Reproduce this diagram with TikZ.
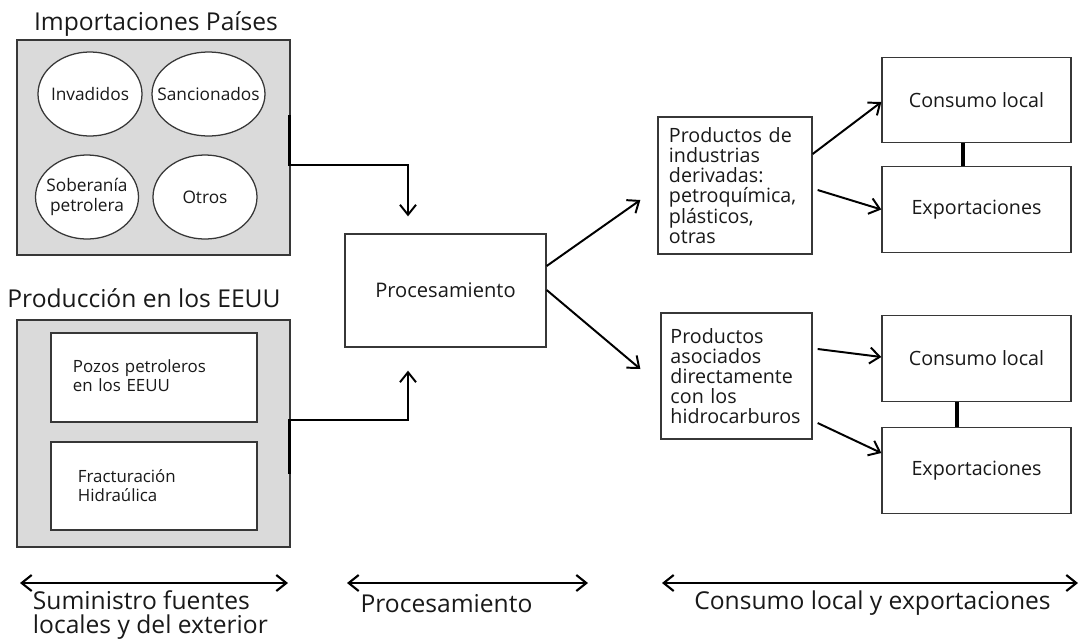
\documentclass[tikz,border=0pt]{standalone}
\usepackage{fontspec}
\setmainfont{Open Sans}
\usepackage{tikz}
\usetikzlibrary{shapes, arrows, positioning, arrows.meta, calc}

\definecolor{grisfondo}{RGB}{218,218,218}
\definecolor{grisborde}{RGB}{55,55,55}
\definecolor{textogris}{RGB}{25,25,25}

\tikzset{
    fondo/.style={draw=grisborde, line width=0.9pt, fill=grisfondo, inner sep=0pt},
    caja/.style={draw=grisborde, line width=0.9pt, fill=white, inner sep=0pt, text=textogris},
    elipse/.style={ellipse, draw=grisborde, line width=0.9pt, fill=white, inner sep=0pt, minimum height=2.1cm},
    etiqueta/.style={align=center, text=textogris, font=\fontsize{12.3}{14.5}\selectfont},
    titulo/.style={text=textogris, font=\fontsize{17.5}{17.5}\selectfont},
    flecha/.style={line width=1.4pt, -{Straight Barb[length=2.5mm, width=4mm, line width=1.4pt]}},
    doble/.style={line width=1.5pt, {Straight Barb[length=2.5mm, width=4mm, line width=1.5pt]}-{Straight Barb[length=2.5mm, width=4mm, line width=1.5pt]}},
    barra/.style={line width=2.3pt}
}

\begin{document}
\begin{tikzpicture}[x=0.025cm, y=-0.025cm]
        \useasboundingbox (0,0) rectangle (1080,640);
        % Importaciones de otros paises
        \node[titulo] (titimp) at (156,24) {Importaciones Países};
        \node[fondo, minimum width=6.825cm, minimum height=5.375cm] (imp) at (153.5,147.5) {};
        \foreach \x/\y/\w/\nom/\txt in {90/94/104/inv/Invadidos, 208.5/94/113/san/Sancionados, 87/197/103/sob/{Soberanía\\petrolera}, 205/197/104/otr/Otros} {
            \node[elipse, minimum width=\w*0.025cm, label={[etiqueta]center:\txt}] (\nom) at (\x,\y) {};
        }
        % Produccion local
        \node[titulo] (titprod) at (144,298) {Producción en los EEUU};
        \node[fondo, minimum width=6.825cm, minimum height=5.675cm] (prod) at (153.5,433.5) {};
        \node[caja, minimum width=5.15cm, minimum height=2.225cm, text width=4.05cm, align=left, text depth=16pt,
              font=\fontsize{12}{13.5}\selectfont] (pozos) at (154,377.5) {Pozos petroleros\\en los EEUU};
        \node[caja, minimum width=5.15cm, minimum height=2.2cm, text width=3.8cm, align=left,
              font=\fontsize{12}{13.5}\selectfont] (fract) at (154,486) {Fracturación\\Hidraúlica};
        % Procesamiento
        \node[caja, minimum width=5.025cm, minimum height=2.825cm, font=\fontsize{14.3}{16}\selectfont] (proc) at (445.5,290.5) {Procesamiento};
        \coordinate (llegada1) at ($(proc.north)+(-37.5,-17)$);
        \coordinate (llegada2) at ($(proc.south)+(-37.5,23)$);
        \draw[barra] ($(imp.east)+(-1,-32.5)$) -- ($(imp.east)+(-1,18.5)$);
        \draw[flecha] ($(imp.east)+(0,17.5)$) -| (llegada1);
        \draw[barra] ($(prod.east)+(-1,-14.5)$) -- ($(prod.east)+(-1,40)$);
        \draw[flecha] ($(prod.east)+(0,-13.5)$) -| (llegada2);
        % Productos derivados
        \node[caja, minimum width=3.85cm, minimum height=3.425cm, text width=3.3cm, align=left,
              font=\fontsize{14}{14.3}\selectfont] (ind) at (735,185.5) {Productos de\\industrias\\derivadas:\\petroquímica,\\plásticos,\\otras};
        \node[caja, minimum width=3.775cm, minimum height=3.15cm, text width=3.3cm, align=left,
              font=\fontsize{14}{14.3}\selectfont] (aso) at (736.5,376) {Productos\\asociados\\directamente\\con los\\hidrocarburos};
        \draw[flecha] ($(proc.east)+(0,-24.5)$) -- ($(ind.west)+(-17,14.5)$);
        \draw[flecha] ($(proc.east)+(0,-0.5)$) -- ($(aso.west)+(-20,-7)$);
        % Consumo local y exportaciones
        \foreach \y/\nom/\txt in {100/cons1/Consumo local, 209.5/exp1/Exportaciones, 358.5/cons2/Consumo local, 470.5/exp2/Exportaciones} {
            \node[caja, minimum width=4.725cm, minimum height=2.14cm, font=\fontsize{14}{16}\selectfont] (\nom) at (976.5,\y) {\txt};
        }
        \draw[barra] ($(cons1.south)+(-13.5,0)$) -- ($(exp1.north)+(-13.5,0)$);
        \draw[barra] ($(cons2.south)+(-19.5,0)$) -- ($(exp2.north)+(-19.5,0)$);
        \draw[flecha] ($(ind.east)+(0,-31.5)$) -- ($(cons1.west)+(0,2)$);
        \draw[flecha] ($(ind.east)+(5,4.5)$) -- (exp1.west);
        \draw[flecha] ($(aso.east)+(5,-27)$) -- ($(cons2.west)+(0,-1.5)$);
        \draw[flecha] ($(aso.east)+(5,47)$) -- ($(exp2.west)+(0,-17.5)$);
        % Etapas
        \foreach \ini/\fin/\nom in {20/288/sum, 347/588/pro, 662/1078/con} {
            \coordinate (\nom-i) at (\ini,583);
            \coordinate (\nom-f) at (\fin,583);
            \draw[doble] (\nom-i) -- (\nom-f);
        }
        \node[titulo, align=left, anchor=west] (etsum) at (28,615) {Suministro fuentes\\locales y del exterior};
        \node[titulo] (etpro) at (446.5,604) {Procesamiento};
        \node[titulo] (etcon) at (872.5,603) {Consumo local y exportaciones};
    \end{tikzpicture}
\end{document}
